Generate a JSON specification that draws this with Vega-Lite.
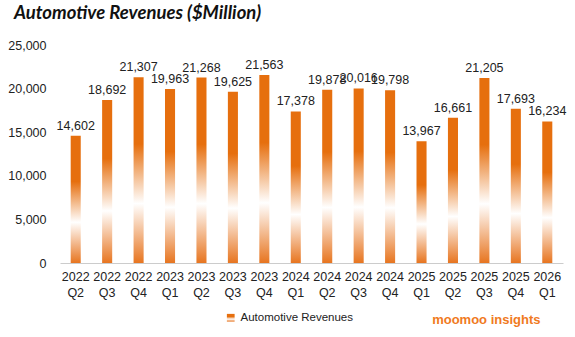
{
  "$schema": "https://vega.github.io/schema/vega-lite/v6.json",
  "width": 503,
  "height": 218,
  "autosize": {"type": "none"},
  "padding": {"left": 60, "top": 45, "right": 12, "bottom": 74},
  "background": "#ffffff",
  "title": {
    "text": "Automotive Revenues ($Million)",
    "anchor": "start",
    "frame": "group",
    "dx": -46,
    "offset": 17,
    "font": "Lato",
    "fontSize": 18.5,
    "fontWeight": "bold",
    "fontStyle": "italic",
    "color": "#111111"
  },
  "data": {
    "values": [
      {"quarter": "2022 Q2", "revenue": 14602},
      {"quarter": "2022 Q3", "revenue": 18692},
      {"quarter": "2022 Q4", "revenue": 21307},
      {"quarter": "2023 Q1", "revenue": 19963},
      {"quarter": "2023 Q2", "revenue": 21268},
      {"quarter": "2023 Q3", "revenue": 19625},
      {"quarter": "2023 Q4", "revenue": 21563},
      {"quarter": "2024 Q1", "revenue": 17378},
      {"quarter": "2024 Q2", "revenue": 19878},
      {"quarter": "2024 Q3", "revenue": 20016},
      {"quarter": "2024 Q4", "revenue": 19798},
      {"quarter": "2025 Q1", "revenue": 13967},
      {"quarter": "2025 Q2", "revenue": 16661},
      {"quarter": "2025 Q3", "revenue": 21205},
      {"quarter": "2025 Q4", "revenue": 17693},
      {"quarter": "2026 Q1", "revenue": 16234}
    ]
  },
  "encoding": {
    "x": {
      "field": "quarter",
      "type": "nominal",
      "sort": null,
      "scale": {"paddingInner": 0.68, "paddingOuter": 0.34},
      "axis": {
        "labelAngle": 0,
        "labelExpr": "split(datum.label, ' ')",
        "labelLineHeight": 16,
        "labelPadding": 7,
        "labelFont": "Liberation Sans",
        "labelFontSize": 12.5,
        "labelColor": "#222222",
        "ticks": false,
        "domainColor": "#cccccc",
        "domainWidth": 1,
        "title": "moomoo insights",
        "titleFont": "Liberation Sans",
        "titleFontSize": 13,
        "titleFontWeight": "bold",
        "titleColor": "#F07A1E",
        "titleAlign": "right",
        "titleBaseline": "middle",
        "titleX": 480,
        "titleY": 56
      }
    },
    "y": {
      "field": "revenue",
      "type": "quantitative",
      "scale": {"domain": [0, 25000], "nice": false},
      "axis": {
        "values": [0, 5000, 10000, 15000, 20000, 25000],
        "format": ",d",
        "grid": false,
        "domain": false,
        "ticks": false,
        "labelPadding": 14,
        "labelFont": "Liberation Sans",
        "labelFontSize": 12.5,
        "labelColor": "#222222",
        "title": null
      }
    }
  },
  "layer": [
    {
      "mark": {
        "type": "bar",
        "strokeWidth": 0,
        "fill": {
          "gradient": "linear",
          "x1": 0, "y1": 0, "x2": 0, "y2": 1,
          "stops": [
            {"offset": 0, "color": "#E66F0E"},
            {"offset": 0.36, "color": "#E66F0E"},
            {"offset": 0.68, "color": "#ffffff"},
            {"offset": 1, "color": "#E77520"}
          ]
        }
      },
      "encoding": {
        "stroke": {
          "datum": "Automotive Revenues",
          "type": "nominal",
          "scale": {"range": ["#E66F0E"]},
          "legend": {
            "title": null,
            "orient": "none",
            "legendX": 165,
            "legendY": 267,
            "symbolType": "square",
            "symbolSize": 60,
            "symbolFillColor": "#E66F0E",
            "symbolStrokeWidth": 0,
            "labelFont": "Liberation Sans",
            "labelFontSize": 11.5,
            "labelColor": "#222222"
          }
        }
      }
    },
    {
      "mark": {
        "type": "text",
        "dy": -10,
        "font": "Liberation Sans",
        "fontSize": 12.5,
        "color": "#222222"
      },
      "encoding": {
        "text": {"field": "revenue", "type": "quantitative", "format": ",d"}
      }
    }
  ],
  "config": {
    "view": {"stroke": null}
  }
}
